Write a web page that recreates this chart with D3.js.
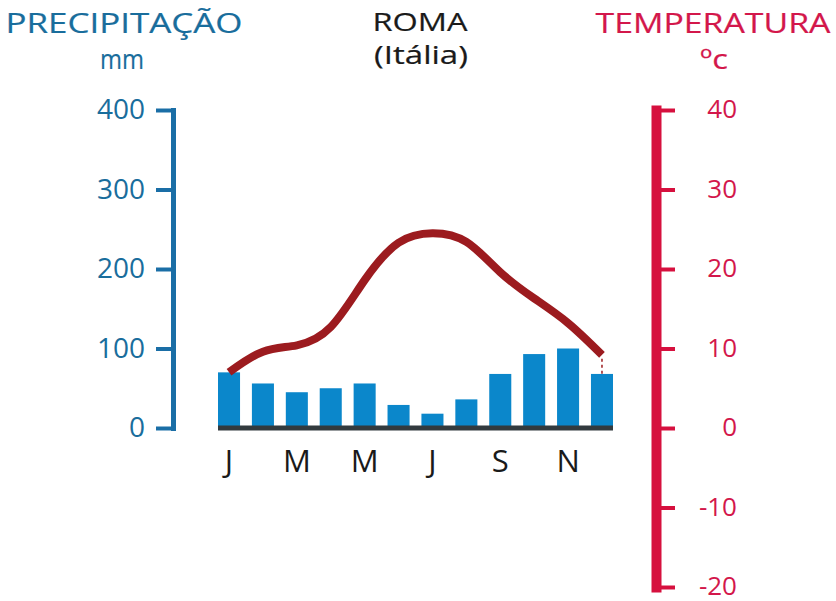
<!DOCTYPE html>
<html>
<head>
<meta charset="utf-8">
<script src="https://cdn.jsdelivr.net/npm/d3@7"></script>
<style>
    body { margin: 0; background: #fff; }
    svg text { font-family: "Open Sans", "Noto Sans", sans-serif; }
</style>
</head>
<body>
<div id="chart"></div>
<script>
// Roma (Itália) - climograma
const months = ["J", "F", "M", "A", "M", "J", "J", "A", "S", "O", "N", "D"];
const precipitation = [70, 56, 45, 50, 56, 29, 18, 36, 68, 93, 100, 68];   // mm
const temperature = [7.0, 9.6, 10.4, 12.7, 18.6, 23.3, 24.5, 23.4, 19.6, 16.3, 13.2, 9.2];   // ºC
const precipTicks = [0, 100, 200, 300, 400];
const tempTicks = [-20, -10, 0, 10, 20, 30, 40];

const blueText = "#196d9c", blueAxis = "#1a6ea6", barColor = "#0b87cb";
const redText = "#d3174b", redAxis = "#d6103e", lineColor = "#9c1b1f";

let svg = d3.select("#chart").append("svg")
    .attr("width", 836)
    .attr("height", 601);

// scales
let x = d3.scaleBand()
    .domain(d3.range(months.length))
    .range([218, 613])
    .paddingInner(0.35)
    .paddingOuter(0);

let yP = d3.scaleLinear().domain([0, 400]).range([428, 110]);
let yT = d3.scaleLinear().domain([-20, 40]).range([587, 110]);

// titles
const title = (txt, cx, y, size, len, color) => svg.append("text")
    .attr("x", cx).attr("y", y)
    .attr("text-anchor", "middle")
    .attr("font-size", size)
    .attr("fill", color)
    .attr("stroke", color)
    .attr("stroke-width", 0.2)
    .attr("textLength", len)
    .attr("lengthAdjust", "spacingAndGlyphs")
    .text(txt);

title("PRECIPITAÇÃO", 124, 33, 27, 237, blueText);
title("mm", 122, 69, 27, 44, blueText);
title("ROMA", 420, 31, 25, 95, "#1a1a1a");
title("(Itália)", 421, 64, 25, 94, "#1a1a1a");
title("TEMPERATURA", 713, 33, 27, 235, redText);
title("ºc", 714, 69, 27, 28, redText);

// left axis (precipitation)
let axisP = svg.append("g")
    .attr("transform", "translate(173,0)")
    .call(d3.axisLeft(yP).tickValues(precipTicks).tickSize(17).tickSizeOuter(0).tickPadding(11));
axisP.select(".domain").attr("stroke", blueAxis).attr("stroke-width", 5).attr("stroke-linecap", "square");
axisP.selectAll(".tick line").attr("stroke", blueAxis).attr("stroke-width", 4);
axisP.selectAll(".tick text").attr("fill", blueText).attr("font-size", 28);

// right axis (temperature)
let axisT = svg.append("g")
    .attr("transform", "translate(656,0)")
    .call(d3.axisRight(yT).tickValues(tempTicks).tickSize(19).tickSizeOuter(0).tickFormat(d => String(d)));
axisT.select(".domain").attr("stroke", redAxis).attr("stroke-width", 10).attr("stroke-linecap", "square");
axisT.selectAll(".tick line").attr("stroke", redAxis).attr("stroke-width", 4);
axisT.selectAll(".tick text")
    .attr("fill", redText)
    .attr("font-size", 26)
    .attr("text-anchor", "end")
    .attr("x", 81)
    .attr("dy", "0.3em");

// bars
svg.selectAll("rect.bar")
    .data(precipitation)
    .enter()
    .append("rect")
    .attr("class", "bar")
    .attr("x", (d, i) => x(i))
    .attr("y", d => yP(d))
    .attr("width", x.bandwidth())
    .attr("height", d => yP(0) - yP(d))
    .attr("fill", barColor);

// base line
svg.append("line")
    .attr("x1", x.range()[0]).attr("x2", x.range()[1])
    .attr("y1", yP(0)).attr("y2", yP(0))
    .attr("stroke", "#323a3e")
    .attr("stroke-width", 5);

// month labels
let axisM = svg.append("g")
    .attr("transform", "translate(0," + yP(0) + ")")
    .call(d3.axisBottom(x).tickSize(0).tickPadding(22).tickFormat(i => i % 2 === 0 ? months[i] : ""));
axisM.select(".domain").remove();
axisM.selectAll(".tick text").attr("font-size", 31).attr("fill", "#1a1a1a");

// temperature curve
let line = d3.line()
    .x((d, i) => x(i) + x.bandwidth() / 2)
    .y(d => yT(d))
    .curve(d3.curveNatural);

svg.append("path")
    .datum(temperature)
    .attr("d", line)
    .attr("fill", "none")
    .attr("stroke", lineColor)
    .attr("stroke-width", 8);

// small dotted link from the last point to the December bar
let last = temperature.length - 1;
svg.append("line")
    .attr("x1", x(last) + x.bandwidth() / 2).attr("x2", x(last) + x.bandwidth() / 2)
    .attr("y1", yT(temperature[last]) + 4).attr("y2", yP(precipitation[last]))
    .attr("stroke", lineColor)
    .attr("stroke-width", 1.5)
    .attr("stroke-dasharray", "3,3");
</script>
</body>
</html>
